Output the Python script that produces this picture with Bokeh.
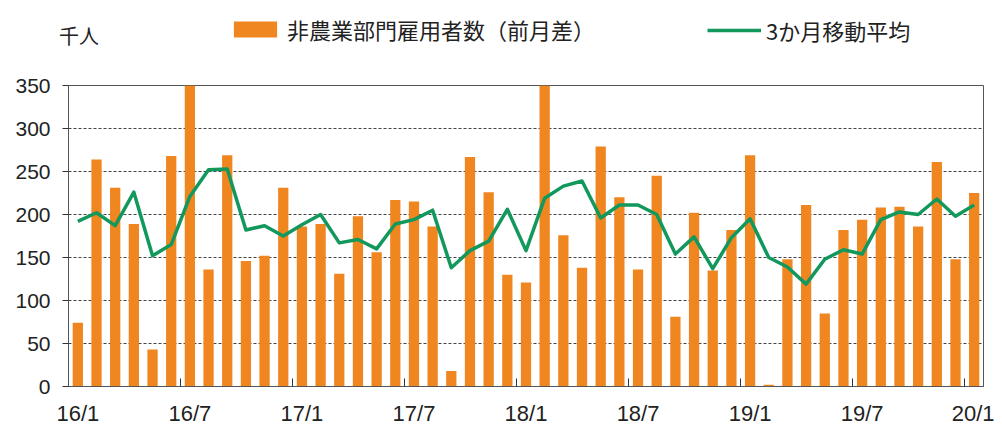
from bokeh.plotting import figure
from bokeh.layouts import column
from bokeh.models import FixedTicker, Legend, LegendItem, ColumnDataSource
from bokeh.embed import file_html
from bokeh.resources import INLINE

# Monthly data 2016/1 - 2020/1 (thousands)
months = list(range(49))
payrolls = [74, 264, 231, 189, 43, 268, 355, 136, 269, 146, 152, 231,
            186, 189, 131, 198, 156, 217, 215, 186, 18, 267, 226, 130,
            121, 355, 176, 138, 279, 220, 136, 245, 81, 202, 135, 182,
            269, 2, 148, 211, 85, 182, 194, 208, 209, 186, 261, 148, 225]
moving_avg = [192, 202, 187, 226, 152, 165, 221, 252, 253, 182, 187, 175,
              188, 200, 167, 171, 160, 189, 194, 205, 138, 158, 169, 206,
              158, 219, 233, 239, 196, 211, 211, 200, 154, 174, 137, 173,
              195, 150, 139, 119, 148, 159, 154, 194, 203, 200, 218, 198, 211]
tick_pos = [0, 6, 12, 18, 24, 30, 36, 42, 48]
tick_labels = ["16/1", "16/7", "17/1", "17/7", "18/1", "18/7", "19/1", "19/7", "20/1"]
y_ticks = [0, 50, 100, 150, 200, 250, 300, 350]
unit_label = "千人"
bar_label = "非農業部門雇用者数（前月差）"
line_label = "3か月移動平均"

ORANGE = "#F0861F"
GREEN = "#12985C"
TEXT = "#222222"
CJK = "Noto Sans CJK JP"
W = 994
HEAD_H = 70

src = ColumnDataSource(dict(x=months, bar=payrolls, avg=moving_avg))

# ---------- header strip: unit label and legend ----------
# The header shares the data source but its ranges lie far from the data,
# so its renderers only serve as legend swatches.
head = figure(frame_width=W, frame_height=HEAD_H,
              x_range=(5000, 5000 + W), y_range=(5000, 5000 + HEAD_H),
              output_backend="svg", toolbar_location=None,
              min_border=0, outline_line_color=None,
              background_fill_color="white", border_fill_color="white")
head.axis.visible = False
head.grid.visible = False
hb = head.vbar(x="x", top="bar", width=0.55, source=src,
               fill_color=ORANGE, line_color=None)
hl = head.line(x="x", y="avg", source=src, line_color=GREEN, line_width=3.5)
hu = head.line(x="x", y="avg", source=src, line_alpha=0)

def make_legend(label, rend, loc, gw=54, standoff=5, size="22px"):
    return Legend(items=[LegendItem(label=label, renderers=[rend])],
                  location=loc, orientation="horizontal",
                  padding=0, margin=0, spacing=0,
                  glyph_width=gw, glyph_height=20, label_standoff=standoff,
                  label_text_font=CJK, label_text_font_size=size,
                  label_text_color=TEXT,
                  border_line_alpha=0, background_fill_alpha=0)

head.add_layout(make_legend(unit_label, hu, (59, HEAD_H - 50), gw=0,
                            standoff=0, size="20px"))
head.add_layout(make_legend(bar_label, hb, (228, HEAD_H - 45)))
head.add_layout(make_legend(line_label, hl, (707, HEAD_H - 46)))

# ---------- main chart ----------
p = figure(frame_width=915, frame_height=301,
           x_range=(-0.5, 48.5), y_range=(0, 350),
           output_backend="svg", toolbar_location=None,
           min_border_left=68, min_border_right=11,
           min_border_top=85 - HEAD_H, min_border_bottom=44,
           background_fill_color="white", border_fill_color="white")

bars = p.vbar(x="x", top="bar", width=0.55, source=src,
              fill_color=ORANGE, line_color=None)
line = p.line(x="x", y="avg", source=src, line_color=GREEN, line_width=3.5,
              line_join="round")

p.xaxis.ticker = FixedTicker(ticks=tick_pos,
                             minor_ticks=[t - 0.5 for t in tick_pos[1:]])
p.xaxis.major_label_overrides = {t: l for t, l in zip(tick_pos, tick_labels)}
p.xaxis.major_tick_in = 0
p.xaxis.major_tick_out = 0
p.xaxis.minor_tick_in = 8
p.xaxis.minor_tick_out = 0
p.xaxis.minor_tick_line_color = "#333333"
p.xaxis.major_label_standoff = 14
p.xaxis.major_label_text_font = "Liberation Sans"
p.xaxis.major_label_text_font_size = "22px"
p.xaxis.major_label_text_color = TEXT
p.xaxis.axis_line_color = "#555555"

p.yaxis.ticker = FixedTicker(ticks=y_ticks)
p.yaxis.major_tick_in = 0
p.yaxis.major_tick_out = 6
p.yaxis.minor_tick_line_color = None
p.yaxis.major_tick_line_color = "#333333"
p.yaxis.major_label_standoff = 12
p.yaxis.major_label_text_font = "Liberation Sans"
p.yaxis.major_label_text_font_size = "21px"
p.yaxis.major_label_text_color = TEXT
p.yaxis.axis_line_color = "#555555"

p.xgrid.grid_line_color = None
p.ygrid.ticker = FixedTicker(ticks=y_ticks[1:-1])
p.ygrid.grid_line_color = "#444444"
p.ygrid.grid_line_dash = "3 2"
p.ygrid.grid_line_width = 1

p.outline_line_color = "#555555"
p.outline_line_width = 1

layout = column(head, p, spacing=0)
open("out.html", "w").write(file_html(layout, INLINE))
